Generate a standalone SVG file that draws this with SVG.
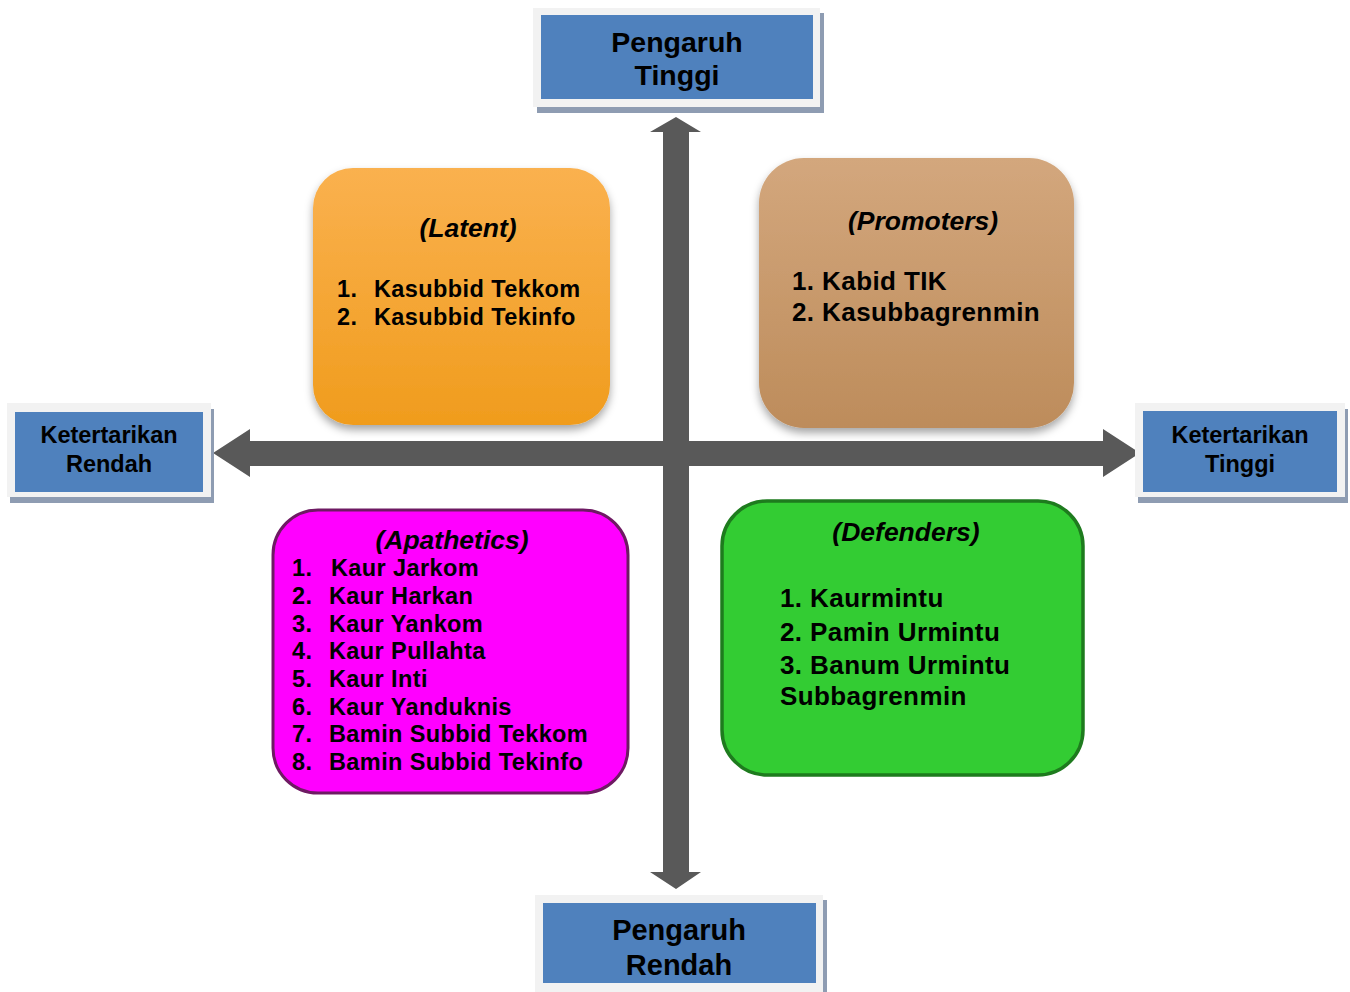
<svg xmlns="http://www.w3.org/2000/svg" width="1350" height="992" viewBox="0 0 1350 992">
  <style>
    text { font-family: "Liberation Sans", Arial, sans-serif; font-weight: bold; fill: #000; }
    .item { letter-spacing: 0.4px; }
    .axis-frame { fill: #f2f2f2; }
    .axis-shadow { fill: #8e9cb2; }
    .axis-fill { fill: #4f81bd; }
    .axis-label { font-size: 28.5px; text-anchor: middle; }
    .side-label { font-size: 23.5px; text-anchor: middle; }
    .title { font-size: 26.5px; font-style: italic; text-anchor: middle; }
    .arrow { fill: #595959; }
  </style>
  <defs>
    <linearGradient id="gLatent" x1="0" y1="0" x2="0" y2="1">
      <stop offset="0" stop-color="#fab14f"/>
      <stop offset="1" stop-color="#f09c1d"/>
    </linearGradient>
    <linearGradient id="gPromoters" x1="0" y1="0" x2="0" y2="1">
      <stop offset="0" stop-color="#d3a77d"/>
      <stop offset="1" stop-color="#bd8c5b"/>
    </linearGradient>
    <filter id="softShadow" x="-10%" y="-10%" width="120%" height="125%">
      <feDropShadow dx="0" dy="5" stdDeviation="4" flood-color="#000" flood-opacity="0.35"/>
    </filter>
  </defs>

  <!-- axis arrows -->
  <g id="connectors">
    <polygon class="arrow" points="250,441 664,441 664,466 250,466 250,477 213,453 250,429"/>
    <polygon class="arrow" points="1103,441 689,441 689,466 1103,466 1103,477 1140,453 1103,429"/>
    <polygon class="arrow" points="663,132 650,132 676,117 701,132 689,132 689,872 701,872 676,889 650,872 663,872"/>
  </g>

  <!-- axis end labels -->
  <g id="pengaruh-tinggi">
    <rect class="axis-shadow" x="537" y="13" width="287" height="100"/>
    <rect class="axis-frame" x="533" y="8" width="287" height="99"/>
    <rect class="axis-fill" x="541" y="15" width="272" height="84"/>
    <text class="axis-label" x="677" y="52">Pengaruh</text>
    <text class="axis-label" x="677" y="85">Tinggi</text>
  </g>

  <g id="ketertarikan-rendah">
    <rect class="axis-shadow" x="10" y="409" width="204" height="94"/>
    <rect class="axis-frame" x="7" y="403" width="204" height="94"/>
    <rect class="axis-fill" x="15" y="412" width="188" height="80"/>
    <text class="side-label" x="109" y="443">Ketertarikan</text>
    <text class="side-label" x="109" y="472">Rendah</text>
  </g>

  <g id="ketertarikan-tinggi">
    <rect class="axis-shadow" x="1138" y="409" width="210" height="94"/>
    <rect class="axis-frame" x="1135" y="403" width="210" height="94"/>
    <rect class="axis-fill" x="1143" y="411" width="194" height="81"/>
    <text class="side-label" x="1240" y="443">Ketertarikan</text>
    <text class="side-label" x="1240" y="472">Tinggi</text>
  </g>

  <g id="pengaruh-rendah">
    <rect class="axis-shadow" x="539" y="900" width="288" height="100"/>
    <rect class="axis-frame" x="535" y="895" width="288" height="100"/>
    <rect class="axis-fill" x="543" y="903" width="273" height="80"/>
    <text class="axis-label" x="679" y="940" style="font-size:29px">Pengaruh</text>
    <text class="axis-label" x="679" y="975" style="font-size:29px">Rendah</text>
  </g>

  <!-- quadrants -->
  <g id="latent">
    <rect x="313" y="168" width="297" height="257" rx="40" ry="40" fill="url(#gLatent)" filter="url(#softShadow)"/>
    <text class="title" x="468" y="237">(Latent)</text>
    <text class="item" style="font-size:23.5px" x="337" y="297">1.</text>
    <text class="item" style="font-size:23.5px" x="374" y="297">Kasubbid Tekkom</text>
    <text class="item" style="font-size:23.5px" x="337" y="325">2.</text>
    <text class="item" style="font-size:23.5px" x="374" y="325">Kasubbid Tekinfo</text>
  </g>

  <g id="promoters">
    <rect x="759" y="158" width="315" height="270" rx="45" ry="45" fill="url(#gPromoters)" filter="url(#softShadow)"/>
    <text class="title" x="923" y="230">(Promoters)</text>
    <text class="item" style="font-size:26px" x="792" y="290">1. Kabid TIK</text>
    <text class="item" style="font-size:26px" x="792" y="321">2. Kasubbagrenmin</text>
  </g>

  <g id="apathetics">
    <rect x="273" y="510" width="355" height="283" rx="45" ry="45" fill="#ff00ff" stroke="#6e1a63" stroke-width="3"/>
    <text class="title" x="452" y="549">(Apathetics)</text>
    <g class="item" style="font-size:23.5px">
      <text class="item" style="font-size:23.5px" x="292" y="576">1.</text>
      <text class="item" style="font-size:23.5px" x="331" y="576">Kaur Jarkom</text>
      <text class="item" style="font-size:23.5px" x="292" y="604">2.</text>
      <text class="item" style="font-size:23.5px" x="329" y="604">Kaur Harkan</text>
      <text class="item" style="font-size:23.5px" x="292" y="632">3.</text>
      <text class="item" style="font-size:23.5px" x="329" y="632">Kaur Yankom</text>
      <text class="item" style="font-size:23.5px" x="292" y="659">4.</text>
      <text class="item" style="font-size:23.5px" x="329" y="659">Kaur Pullahta</text>
      <text class="item" style="font-size:23.5px" x="292" y="687">5.</text>
      <text class="item" style="font-size:23.5px" x="329" y="687">Kaur Inti</text>
      <text class="item" style="font-size:23.5px" x="292" y="715">6.</text>
      <text class="item" style="font-size:23.5px" x="329" y="715">Kaur Yanduknis</text>
      <text class="item" style="font-size:23.5px" x="292" y="742">7.</text>
      <text class="item" style="font-size:23.5px" x="329" y="742">Bamin Subbid Tekkom</text>
      <text class="item" style="font-size:23.5px" x="292" y="770">8.</text>
      <text class="item" style="font-size:23.5px" x="329" y="770">Bamin Subbid Tekinfo</text>
    </g>
  </g>

  <g id="defenders">
    <rect x="722" y="501" width="361" height="274" rx="45" ry="45" fill="#33cc33" stroke="#1e7b1e" stroke-width="3.5"/>
    <text class="title" x="906" y="541">(Defenders)</text>
    <text class="item" style="font-size:26px" x="780" y="607">1. Kaurmintu</text>
    <text class="item" style="font-size:26px" x="780" y="641">2. Pamin Urmintu</text>
    <text class="item" style="font-size:26px" x="780" y="674">3. Banum Urmintu</text>
    <text class="item" style="font-size:26px" x="780" y="705">Subbagrenmin</text>
  </g>
</svg>
